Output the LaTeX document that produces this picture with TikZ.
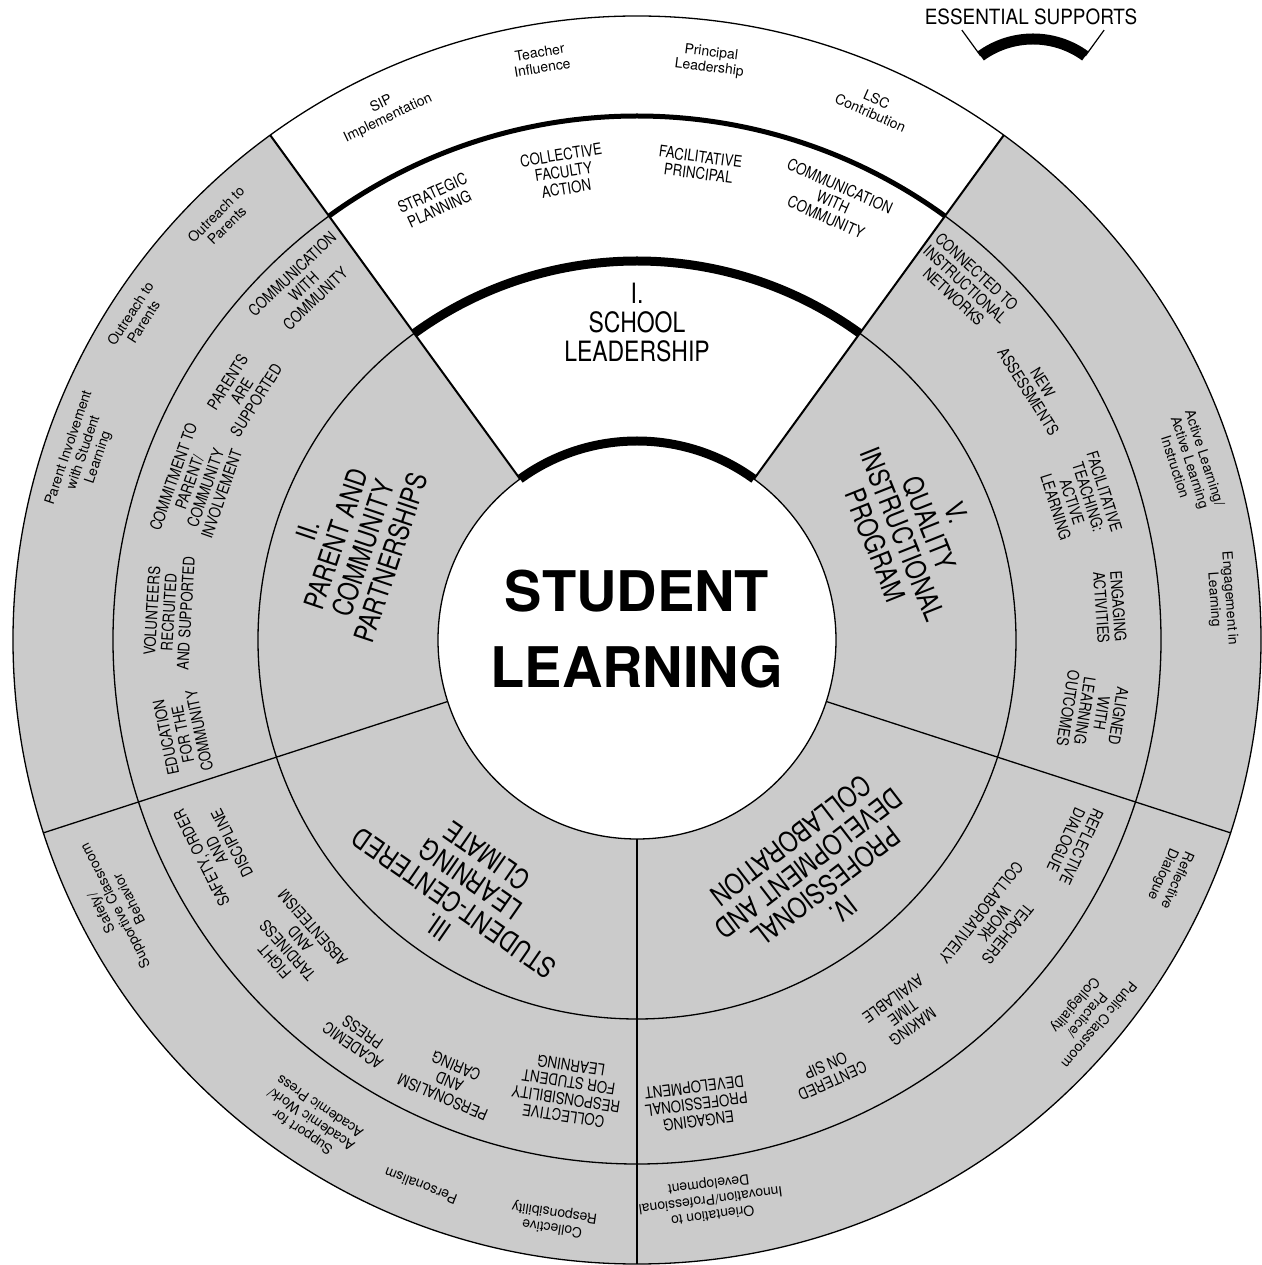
\documentclass[tikz,border=0pt]{standalone}
\usepackage{fontspec}
\setmainfont{TeX Gyre Heros}
\newfontfamily\condfont[FakeStretch=0.83]{TeX Gyre Heros}
\newfontfamily\titlefont[FakeStretch=0.82]{TeX Gyre Heros}
\newfontfamily\legendfont[FakeStretch=0.9]{TeX Gyre Heros}
\definecolor{ringgray}{HTML}{CBCBCB}
\begin{document}
\begin{tikzpicture}[x=1pt,y=1pt,
  thinline/.style={line width=1.3pt},
  secline/.style={line width=2pt},
  title/.style={font=\titlefont\fontsize{28}{29}\selectfont, align=center, inner sep=0pt},
  mid/.style={font=\condfont\fontsize{16}{17}\selectfont, align=center, inner sep=0pt},
  outer/.style={font=\fontsize{14}{15.5}\selectfont, align=center, inner sep=0pt},
  big/.style={font=\bfseries\fontsize{56}{56}\selectfont, inner sep=0pt, anchor=base}]
\useasboundingbox (-637,-625) rectangle (624,640);
\def\radA{199}\def\radB{379}\def\radC{524}\def\radD{624}
% gray ring (all sectors except I)
\fill[ringgray] (126:\radD) arc[start angle=126,end angle=414,radius=\radD]
  -- (54:\radA) arc[start angle=414,end angle=126,radius=\radA] -- cycle;
% circles
\draw[thinline] (0,0) circle[radius=\radD];
\draw[thinline] (0,0) circle[radius=\radC];
\draw[thinline] (0,0) circle[radius=\radB];
\draw[thinline] (0,0) circle[radius=\radA];
% radial lines
\foreach \a in {198,270,342} \draw[thinline] (\a:\radA) -- (\a:\radD);
\foreach \a in {54,126} \draw[secline] (\a:\radA) -- (\a:\radD);
% thick arcs of sector I
\draw[line width=9pt] (54:\radA) arc[start angle=54,end angle=126,radius=\radA];
\draw[line width=9pt] (54:\radB) arc[start angle=54,end angle=126,radius=\radB];
\draw[line width=5pt] (54:\radC) arc[start angle=54,end angle=126,radius=\radC];

% centre
\node[big] (c1) at (0,28) {STUDENT};
\node[big] (c2) at (0,-48) {LEARNING};

% Sector I
\node[title] (t1) at (90:317) {I.\\SCHOOL\\LEADERSHIP};
\node[mid, rotate=24.6] (m11) at (114.6:483) {STRATEGIC\\PLANNING};
\node[mid, rotate=8.9] (m12) at (98.9:474) {COLLECTIVE\\FACULTY\\ACTION};
\node[mid, rotate=-7.5] (m13) at (82.5:479) {FACILITATIVE\\PRINCIPAL};
\node[mid, rotate=-24.1] (m14) at (65.9:480) {COMMUNICATION\\WITH\\COMMUNITY};
\node[outer, rotate=25.5] (o11) at (115.5:586) {SIP\\Implementation};
\node[outer, rotate=9.4] (o12) at (99.4:588) {Teacher\\Influence};
\node[outer, rotate=-7.2] (o13) at (82.8:584) {Principal\\Leadership};
\node[outer, rotate=-23.9] (o14) at (66.1:584) {LSC\\Contribution};

% Sector II
\node[title, rotate=71.5] (t2) at (161.5:303) {II.\\PARENT AND\\COMMUNITY\\PARTNERSHIPS};
\node[mid, rotate=43.3] (m21) at (133.3:486) {COMMUNICATION\\WITH\\COMMUNITY};
\node[mid, rotate=57.8] (m22) at (147.8:467) {PARENTS\\ARE\\SUPPORTED};
\node[mid, rotate=70.6] (m23) at (160.6:466) {COMMITMENT TO\\PARENT/\\COMMUNITY\\INVOLVEMENT};
\node[mid, rotate=86.6] (m24) at (176.6:469) {VOLUNTEERS\\RECRUITED\\AND SUPPORTED};
\node[mid, rotate=101.7] (m25) at (191.7:464) {EDUCATION\\FOR THE\\COMMUNITY};
\node[outer, rotate=44.7] (o21) at (134.7:591) {Outreach to\\Parents};
\node[outer, rotate=57.2] (o22) at (147.2:595) {Outreach to\\Parents};
\node[outer, rotate=71.3] (o23) at (161.3:584) {Parent Involvement\\with Student\\Learning};

% Sector III
\node[title, rotate=145.2] (t3) at (235.2:306) {III.\\STUDENT-CENTERED\\LEARNING\\CLIMATE};
\node[mid, rotate=116.6] (m31) at (206.6:470) {SAFETY, ORDER\\AND\\DISCIPLINE};
\node[mid, rotate=131.6] (m32) at (221.6:459) {FIGHT\\TARDINESS\\AND\\ABSENTEEISM};
\node[mid, rotate=145] (m33) at (235:487) {ACADEMIC\\PRESS};
\node[mid, rotate=157] (m34) at (247:480) {PERSONALISM\\AND\\CARING};
\node[mid, rotate=171.2] (m35) at (261.2:456) {COLLECTIVE\\RESPONSIBILITY\\FOR STUDENT\\LEARNING};
\node[outer, rotate=117] (o31) at (207:586) {Safety/\\Supportive Classroom\\Behavior};
\node[outer, rotate=145.8] (o32) at (235.8:580) {Support for\\Academic Work/\\Academic Press};
\node[outer, rotate=158.4] (o33) at (248.4:587) {Personalism};
\node[outer, rotate=171.8] (o34) at (261.8:586) {Collective\\Responsibility};

% Sector IV
\node[title, rotate=217.5] (t4) at (307.5:296) {IV.\\PROFESSIONAL\\DEVELOPMENT AND\\COLLABORATION};
\node[mid, rotate=187.3] (m41) at (277.3:468) {ENGAGING\\PROFESSIONAL\\DEVELOPMENT};
\node[mid, rotate=203.9] (m42) at (293.9:474) {CENTERED\\ON SIP};
\node[mid, rotate=215.5] (m43) at (305.5:458) {MAKING\\TIME\\AVAILABLE};
\node[mid, rotate=231.6] (m44) at (321.6:456) {TEACHERS\\WORK\\COLLABORATIVELY};
\node[mid, rotate=245] (m45) at (335:482) {REFLECTIVE\\DIALOGUE};
\node[outer, rotate=187.5] (o41) at (277.5:564) {Orientation to\\Innovation/Professional\\Development};
\node[outer, rotate=230.2] (o42) at (320.2:585) {Public Classroom\\Practice/\\Collegiality};
\node[outer, rotate=246] (o43) at (336:583) {Reflective\\Dialogue};

% Sector V
\node[title, rotate=-68.3] (t5) at (21.7:300) {V.\\QUALITY\\INSTRUCTIONAL\\PROGRAM};
\node[mid, rotate=-42.7] (m51) at (47.3:484) {CONNECTED TO\\INSTRUCTIONAL\\NETWORKS};
\node[mid, rotate=-57.6] (m52) at (32.4:472) {NEW\\ASSESSMENTS};
\node[mid, rotate=-72.4] (m53) at (17.6:465) {FACILITATIVE\\TEACHING:\\ACTIVE\\LEARNING};
\node[mid, rotate=-86] (m54) at (4:474) {ENGAGING\\ACTIVITIES};
\node[mid, rotate=-99] (m55) at (-9:462) {ALIGNED\\WITH\\LEARNING\\OUTCOMES};
\node[outer, rotate=-72.2] (o51) at (17.8:581) {Active Learning/\\Active Learning\\Instruction};
\node[outer, rotate=-86] (o52) at (4:586) {Engagement in\\Learning};

% legend
\coordinate (lc) at (396,512);
\draw[line width=11pt] ([shift={(54:89)}]lc) arc[start angle=54,end angle=126,radius=89];
\draw[line width=1.2pt] ([shift={(126:89)}]lc) -- ([shift={(126:121)}]lc);
\draw[line width=1.2pt] ([shift={(54:89)}]lc) -- ([shift={(54:121)}]lc);
\node[font=\legendfont\fontsize{21}{21}\selectfont, anchor=base, inner sep=0pt] (leg) at (394,615) {ESSENTIAL SUPPORTS};
\end{tikzpicture}
\end{document}
